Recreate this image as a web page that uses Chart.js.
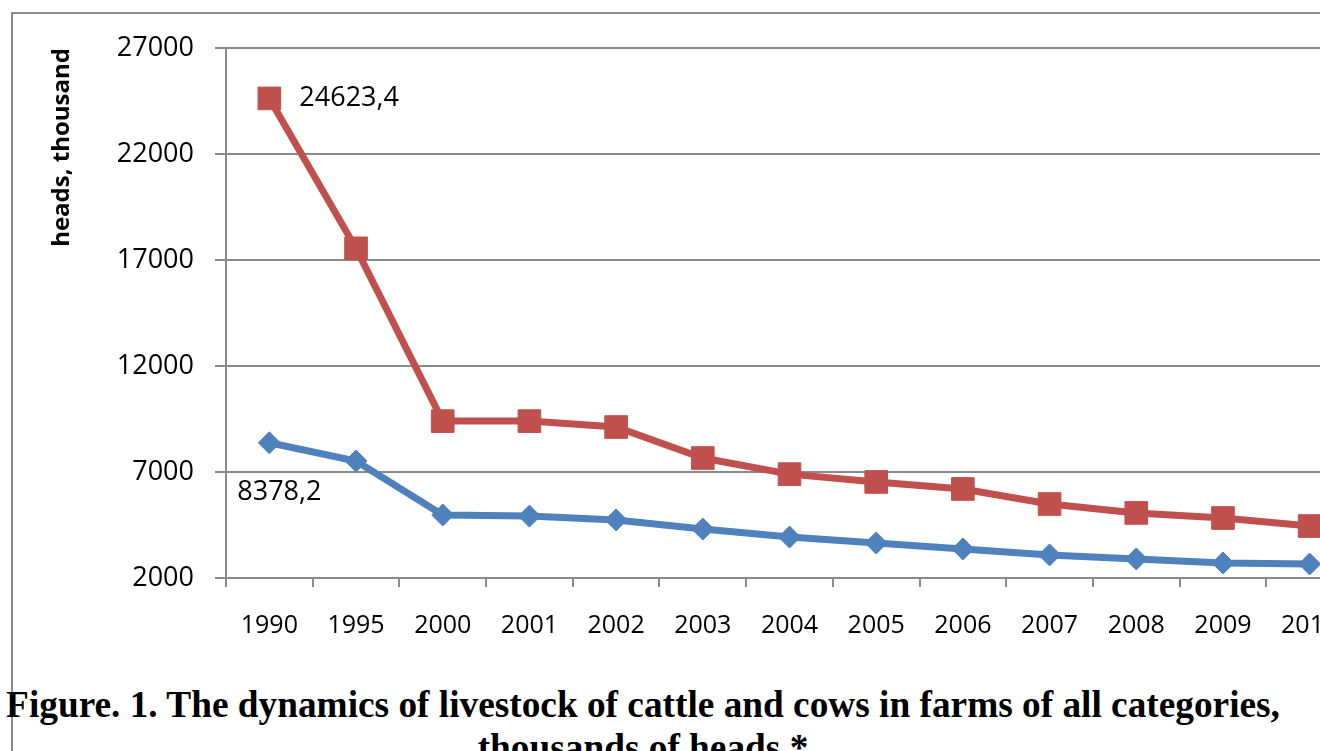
<!DOCTYPE html>
<html lang="en">
<head>
    <meta charset="UTF-8">
    <title>Livestock of cattle and cows</title>
    <script src="https://cdn.jsdelivr.net/npm/chart.js"></script>
    <style>
        body { margin: 0; background: #fff; overflow: hidden; width: 1320px; height: 751px; }
        #frame { position: absolute; left: 11px; top: 12px; width: 1400px; height: 800px;
                 border-left: 2px solid #8c8c8c; border-top: 2px solid #8c8c8c; }
        #wrap { position: absolute; left: 0; top: 0; width: 1370px; height: 660px; }
        #caption { position: absolute; left: 0; top: 683px; width: 1286px; text-align: center;
                   font-family: 'Liberation Serif', 'Times New Roman', serif; font-weight: bold;
                   font-size: 37.3px; line-height: 43px; color: #000; white-space: nowrap; }
    </style>
</head>
<body>
    <div id="frame"></div>
    <div id="wrap"><canvas id="chart" width="1370" height="660"></canvas></div>
    <div id="caption">Figure. 1. The dynamics of livestock of cattle and cows in farms of all categories,<br>thousands of heads *</div>

    <script>
        // data (thousand heads)
        const years = ['1990', '1995', '2000', '2001', '2002', '2003', '2004', '2005', '2006', '2007', '2008', '2009', '2010'];
        const cattle = [24623.4, 17550, 9400, 9400, 9120, 7660, 6900, 6530, 6200, 5490, 5070, 4830, 4450];
        const cows = [8378.2, 7520, 4970, 4920, 4740, 4310, 3930, 3650, 3370, 3090, 2900, 2710, 2660];
        const yTicks = [2000, 7000, 12000, 17000, 22000, 27000];

        const gridGray = '#8a8a8a';

        // first-point value labels, like the Excel data labels
        const firstLabels = {
            id: 'firstLabels',
            afterDatasetsDraw(chart) {
                const ctx = chart.ctx;
                ctx.save();
                ctx.font = '27px "Open Sans"';
                ctx.fillStyle = '#000';
                ctx.textBaseline = 'middle';

                const red = chart.getDatasetMeta(0).data[0];
                ctx.textAlign = 'left';
                ctx.fillText(String(cattle[0]).replace('.', ','), red.x + 30, red.y);

                const blue = chart.getDatasetMeta(1).data[0];
                ctx.textAlign = 'center';
                ctx.fillText(String(cows[0]).replace('.', ','), blue.x + 10, blue.y + 50);
                ctx.restore();
            }
        };

        const ctx = document.getElementById('chart').getContext('2d');
        const chart = new Chart(ctx, {
            type: 'line',
            data: {
                labels: years,
                datasets: [{
                    label: 'cattle',
                    data: cattle,
                    borderColor: '#C0504D',
                    backgroundColor: '#C0504D',
                    borderWidth: 7,
                    pointStyle: 'rect',
                    pointRadius: 16,
                    pointBorderWidth: 1,
                    tension: 0
                }, {
                    label: 'cows',
                    data: cows,
                    borderColor: '#4F81BD',
                    backgroundColor: '#4F81BD',
                    borderWidth: 7,
                    pointStyle: 'rectRot',
                    pointRadius: 11,
                    pointBorderWidth: 1,
                    tension: 0
                }]
            },
            options: {
                responsive: false,
                animation: false,
                layout: { padding: { left: 48, top: 48, right: 13, bottom: 0 } },
                plugins: { legend: { display: false }, tooltip: { enabled: false } },
                scales: {
                    x: {
                        offset: true,
                        grid: { offset: true, drawOnChartArea: false, color: gridGray, lineWidth: 2, tickLength: 9 },
                        border: { color: gridGray, width: 2 },
                        ticks: { color: '#000', font: { family: 'Open Sans', size: 25 }, padding: 24, maxRotation: 0, autoSkip: false },
                        afterFit(s) { s.height = 82; }
                    },
                    y: {
                        min: 2000,
                        max: 27000,
                        afterBuildTicks(s) { s.ticks = yTicks.map(v => ({ value: v })); },
                        grid: { color: gridGray, lineWidth: 2, tickLength: 11 },
                        border: { color: gridGray, width: 2 },
                        ticks: { color: '#000', font: { family: 'Open Sans', size: 27 }, padding: 21,
                                 callback: v => String(v) },
                        title: { display: true, text: 'heads, thousand', align: 'end', color: '#000',
                                 font: { family: 'Open Sans', size: 24, weight: 'bold' }, padding: 0 },
                        afterFit(s) { s.width = 178; }
                    }
                }
            },
            plugins: [firstLabels]
        });
    </script>
</body>
</html>
